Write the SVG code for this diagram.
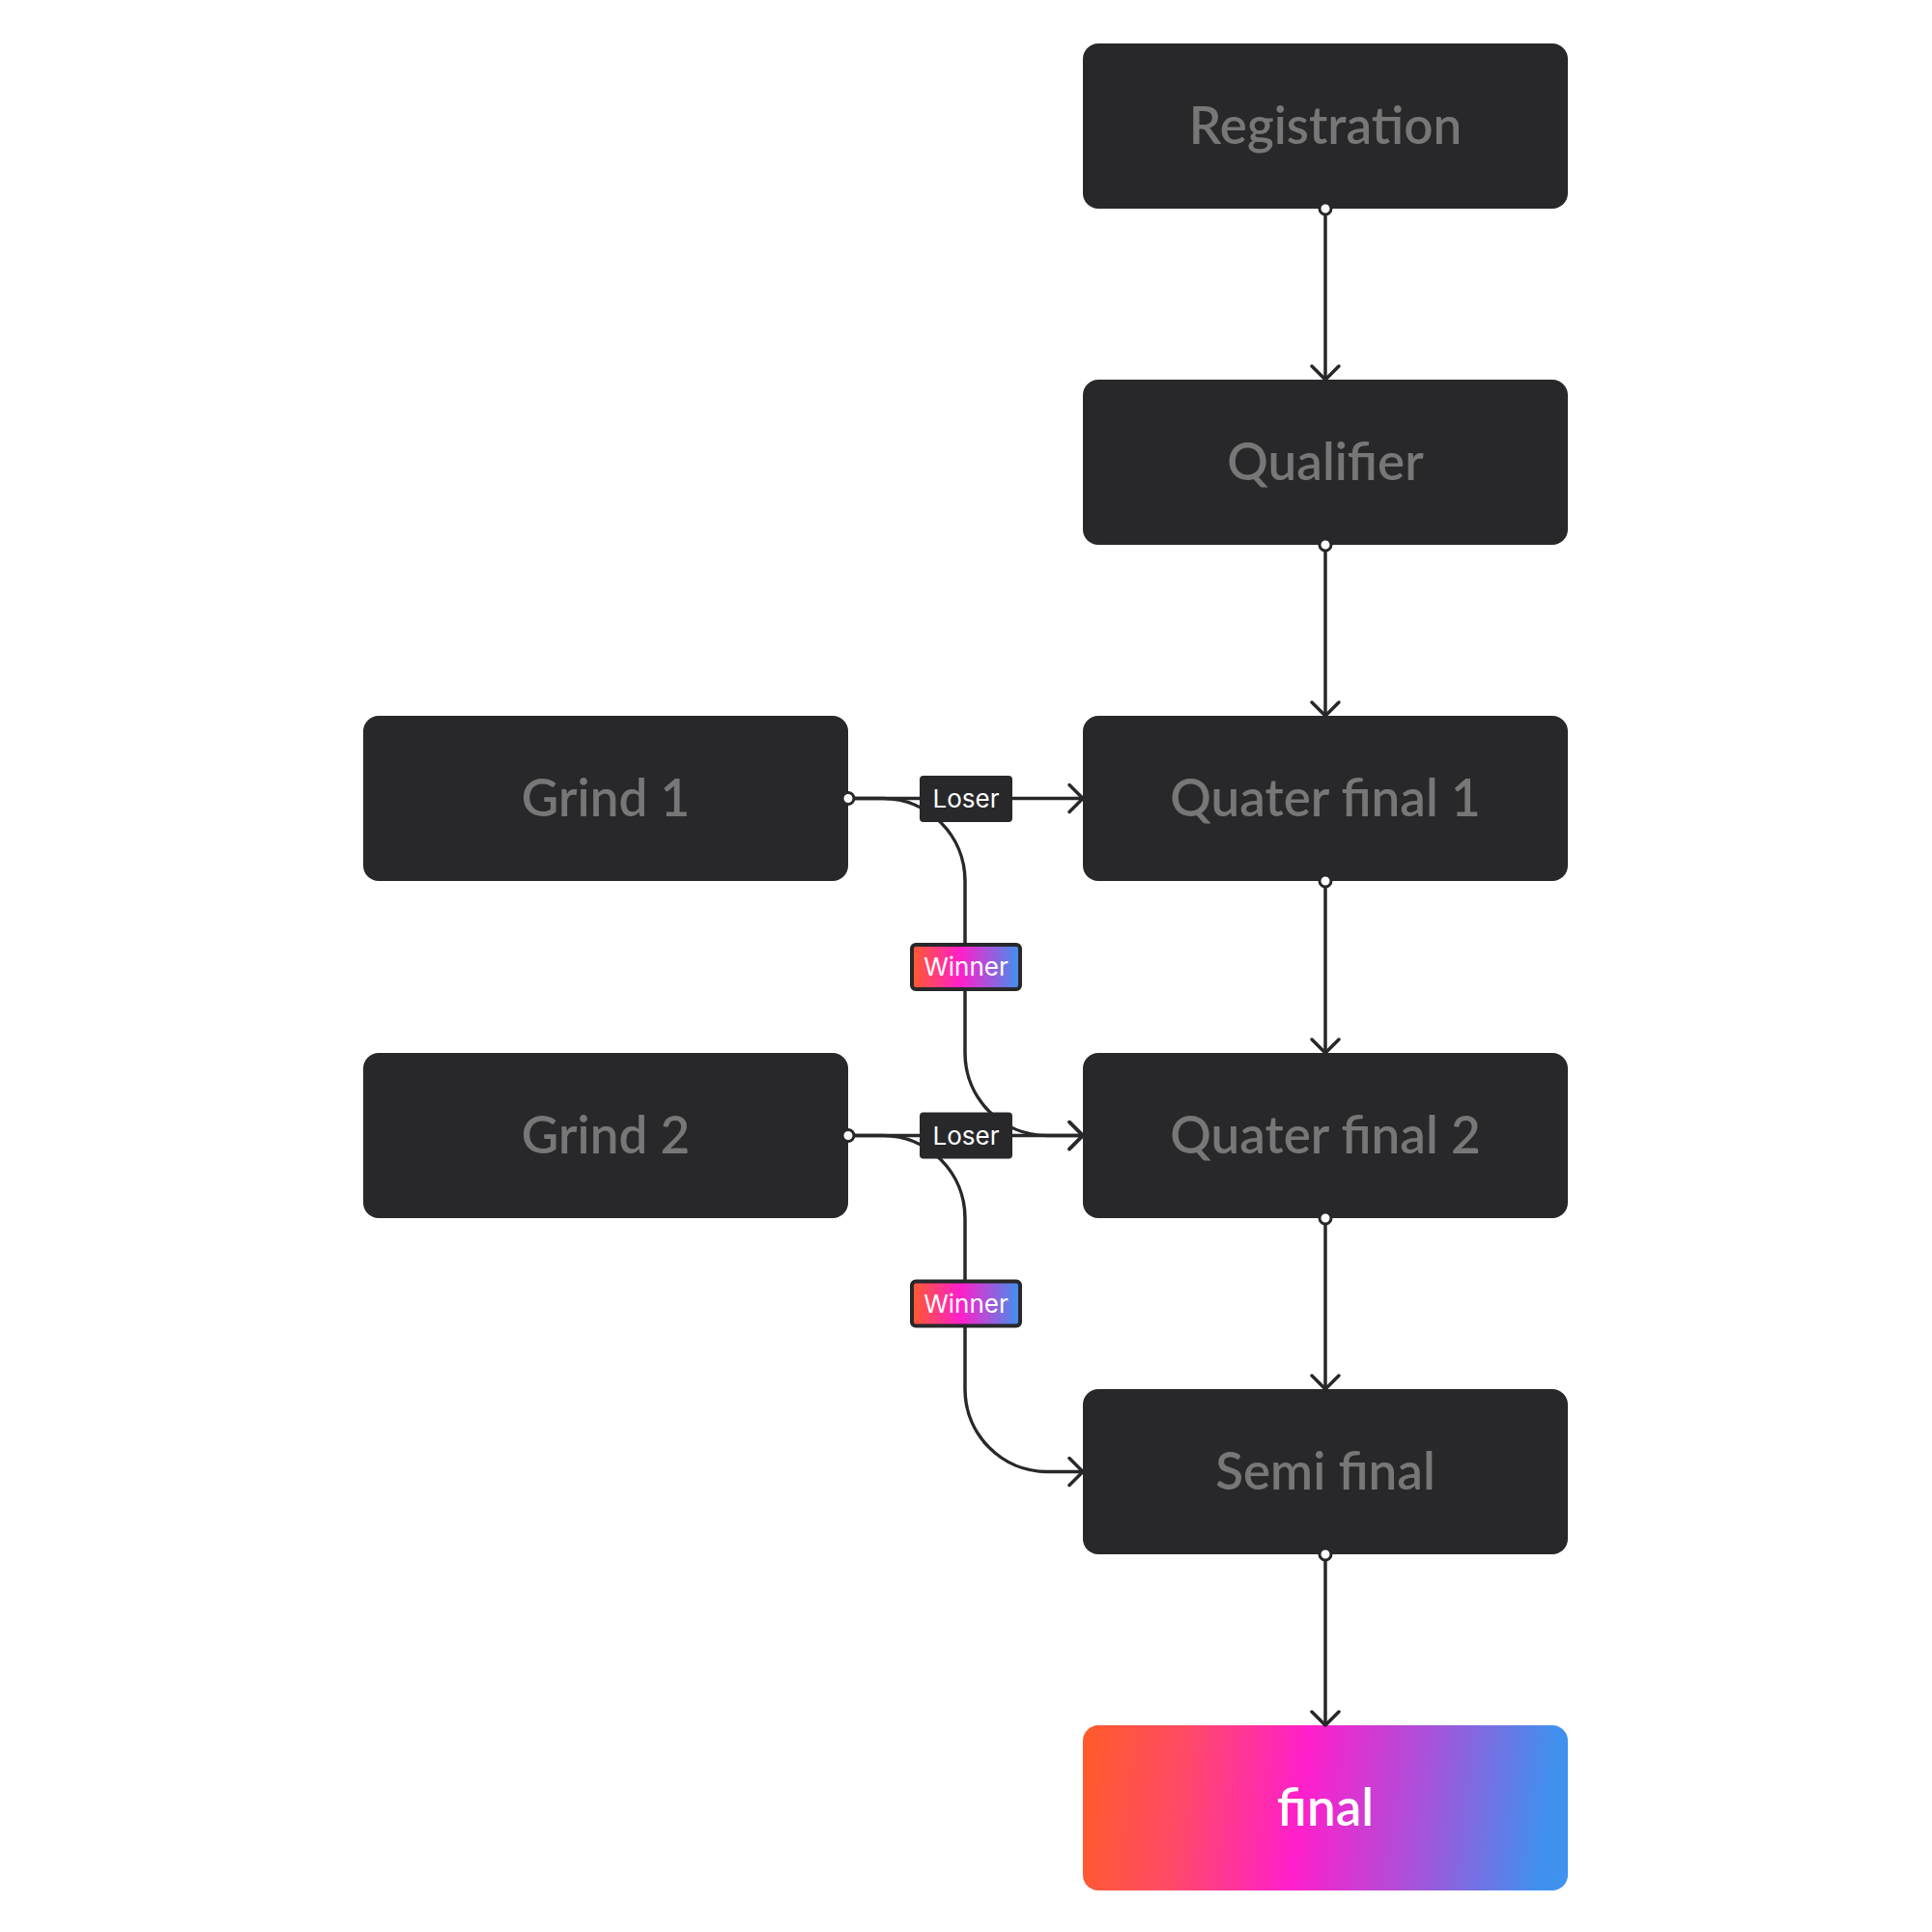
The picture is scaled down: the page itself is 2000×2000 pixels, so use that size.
<svg xmlns="http://www.w3.org/2000/svg" width="2000" height="2000" viewBox="0 0 2000 2000">
<defs>
<linearGradient id="gFinal" gradientUnits="userSpaceOnUse" x1="1121" y1="1840" x2="1623" y2="1902">
<stop offset="0" stop-color="#FF5A2C"/>
<stop offset="0.2" stop-color="#FF4A66"/>
<stop offset="0.45" stop-color="#FF1FCB"/>
<stop offset="0.7" stop-color="#A653DA"/>
<stop offset="0.95" stop-color="#4190EE"/>
<stop offset="1" stop-color="#3F92EE"/>
</linearGradient>
<linearGradient id="gWin" x1="0" y1="0" x2="1" y2="0">
<stop offset="0" stop-color="#FF5A2C"/>
<stop offset="0.45" stop-color="#FF1FCB"/>
<stop offset="1" stop-color="#3F92EE"/>
</linearGradient>
<marker id="arrow" markerUnits="userSpaceOnUse" viewBox="-18 -18 22 36" markerWidth="22" markerHeight="36" refX="0" refY="0" orient="auto">
<path d="M-14,-14 L0,0 L-14,14" fill="none" stroke="#28282B" stroke-width="3.5" stroke-linecap="round" stroke-linejoin="round"/>
</marker>
</defs>
<style>
.box{fill:#28282B}
.lbl{font-family:"Lato","Noto Sans",sans-serif;font-size:53px;font-weight:600;fill:#777777;text-anchor:middle}
.fin{fill:#FFFFFF}
.conn{fill:none;stroke:#28282B;stroke-width:3.5}
.dot{fill:#FFFFFF;stroke:#28282B;stroke-width:3}
.tag{font-family:"Inter","Noto Sans",sans-serif;font-size:26px;fill:#FFFFFF;text-anchor:middle}
.loser{fill:#28282B}
.winner{fill:url(#gWin);stroke:#28282B;stroke-width:4}
</style>
<rect width="2000" height="2000" fill="#FFFFFF"/>
<g id="registration">
<rect class="box" x="1121" y="45" width="502" height="171" rx="16"/>
<text class="lbl" x="1372" y="149">Registration</text>
</g>
<g id="qualifier">
<rect class="box" x="1121" y="393" width="502" height="171" rx="16"/>
<text class="lbl" x="1372" y="497">Qualifier</text>
</g>
<g id="quater-final-1">
<rect class="box" x="1121" y="741" width="502" height="171" rx="16"/>
<text class="lbl" x="1372" y="845">Quater final 1</text>
</g>
<g id="quater-final-2">
<rect class="box" x="1121" y="1090" width="502" height="171" rx="16"/>
<text class="lbl" x="1372" y="1194">Quater final 2</text>
</g>
<g id="semi-final">
<rect class="box" x="1121" y="1438" width="502" height="171" rx="16"/>
<text class="lbl" x="1372" y="1542">Semi final</text>
</g>
<g id="final">
<rect x="1121" y="1786" width="502" height="171" rx="16" fill="url(#gFinal)"/>
<text class="lbl fin" x="1372" y="1890">final</text>
</g>
<g id="grind-1">
<rect class="box" x="376" y="741" width="502" height="171" rx="16"/>
<text class="lbl" x="627" y="845">Grind 1</text>
</g>
<g id="grind-2">
<rect class="box" x="376" y="1090" width="502" height="171" rx="16"/>
<text class="lbl" x="627" y="1194">Grind 2</text>
</g>
<g id="connectors">
<path class="conn" d="M1372 216 L1372 393" marker-end="url(#arrow)"/>
<path class="conn" d="M1372 564 L1372 741" marker-end="url(#arrow)"/>
<path class="conn" d="M1372 912 L1372 1090" marker-end="url(#arrow)"/>
<path class="conn" d="M1372 1261 L1372 1438" marker-end="url(#arrow)"/>
<path class="conn" d="M1372 1609 L1372 1786" marker-end="url(#arrow)"/>
<path class="conn" d="M878 826.5 L1121 826.5" marker-end="url(#arrow)"/>
<path class="conn" d="M878 826.5 L914 826.5 C961 826.5 999 865 999 912 L999 1090 C999 1137 1037 1175.5 1084 1175.5 L1121 1175.5" marker-end="url(#arrow)"/>
<path class="conn" d="M878 1175.5 L1121 1175.5" marker-end="url(#arrow)"/>
<path class="conn" d="M878 1175.5 L914 1175.5 C961 1175.5 999 1214 999 1261 L999 1438 C999 1485 1037 1523.5 1084 1523.5 L1121 1523.5" marker-end="url(#arrow)"/>
<circle class="dot" cx="1372" cy="216" r="6"/>
<circle class="dot" cx="1372" cy="564" r="6"/>
<circle class="dot" cx="1372" cy="912" r="6"/>
<circle class="dot" cx="1372" cy="1261" r="6"/>
<circle class="dot" cx="1372" cy="1609" r="6"/>
<circle class="dot" cx="878" cy="826.5" r="6"/>
<circle class="dot" cx="878" cy="1175.5" r="6"/>
<g id="label-loser-1">
<rect class="loser" x="952" y="803" width="96" height="48" rx="4"/>
<text class="tag" x="1000" y="836">Loser</text>
</g>
<g id="label-winner-1">
<rect class="winner" x="944" y="978" width="112" height="46" rx="4"/>
<text class="tag" x="1000" y="1010">Winner</text>
</g>
<g id="label-loser-2">
<rect class="loser" x="952" y="1151.5" width="96" height="48" rx="4"/>
<text class="tag" x="1000" y="1184.5">Loser</text>
</g>
<g id="label-winner-2">
<rect class="winner" x="944" y="1326.5" width="112" height="46" rx="4"/>
<text class="tag" x="1000" y="1358.5">Winner</text>
</g>
</g>
</svg>
